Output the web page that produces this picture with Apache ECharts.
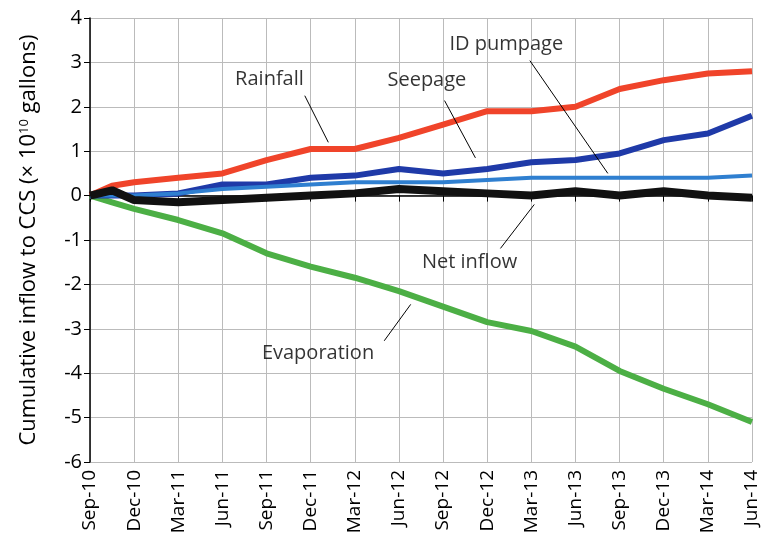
<!DOCTYPE html>
<html><head><meta charset="utf-8">
<script src="https://cdn.jsdelivr.net/npm/echarts@6/dist/echarts.min.js"></script>
<style>html,body{margin:0;padding:0;background:#fff}#chart{width:767px;height:546px}</style>
</head><body><div id="chart"></div>
<script>
// x = months since Sep-10
const tickLabels = ['Sep-10','Dec-10','Mar-11','Jun-11','Sep-11','Dec-11','Mar-12','Jun-12','Sep-12','Dec-12','Mar-13','Jun-13','Sep-13','Dec-13','Mar-14','Jun-14'];
const months = [0, 1.5, 3, 6, 9, 12, 15, 18, 21, 24, 27, 30, 33, 36, 39, 42, 45];
const rainfall = [0, 0.22, 0.3, 0.4, 0.5, 0.8, 1.05, 1.05, 1.3, 1.6, 1.9, 1.9, 2.0, 2.4, 2.6, 2.75, 2.8];
const seepage = [0, 0, 0, 0.05, 0.25, 0.25, 0.4, 0.45, 0.6, 0.5, 0.6, 0.75, 0.8, 0.95, 1.25, 1.4, 1.8];
const pumpage = [0, 0, 0, 0.05, 0.15, 0.2, 0.25, 0.3, 0.3, 0.3, 0.35, 0.4, 0.4, 0.4, 0.4, 0.4, 0.45];
const netInflow = [0, 0.12, -0.1, -0.15, -0.1, -0.05, 0.0, 0.05, 0.15, 0.1, 0.05, 0, 0.1, 0.0, 0.1, 0.0, -0.05];
const evaporation = [0, -0.15, -0.3, -0.55, -0.85, -1.3, -1.6, -1.85, -2.15, -2.5, -2.85, -3.05, -3.4, -3.95, -4.35, -4.7, -5.1];

const pts = v => months.map((m, i) => [m, v[i]]);
const font = 'Open Sans';

// annotations: [text, labelPoint, leaderStart, leaderEnd] in data coords
const notes = [
  ['Rainfall', [12.2, 2.63], [14.6, 2.25], [16.2, 1.2]],
  ['Seepage', [22.9, 2.6], [24.1, 2.14], [26.2, 0.85]],
  ['ID pumpage', [28.3, 3.4], [29.9, 3.04], [35.2, 0.5]],
  ['Net inflow', [25.8, -1.5], [27.9, -1.19], [30.2, -0.2]],
  ['Evaporation', [15.5, -3.55], [20, -3.27], [21.8, -2.45]]
];

function line(data, color, extra) {
  return Object.assign({ type: 'line', data: pts(data), symbol: 'none',
    lineStyle: { color: color, width: 6 }, z: 3 }, extra || {});
}

const chart = echarts.init(document.getElementById('chart'));
chart.setOption({
  animation: false,
  grid: { left: 90, right: 15, top: 18, bottom: 84 },
  xAxis: {
    type: 'value', min: 0, max: 45, interval: 3,
    axisLine: { lineStyle: { color: '#000', width: 1.5 } },
    axisTick: { show: true, length: 6, lineStyle: { color: '#000' } },
    axisLabel: { rotate: 90, color: '#000', fontSize: 19, fontFamily: font,
      formatter: v => tickLabels[Math.round(v / 3)] || '' },
    splitLine: { lineStyle: { color: '#bbb' } }
  },
  yAxis: {
    type: 'value', min: -6, max: 4, interval: 1,
    name: '{a|Cumulative inflow to CCS (× 10}{s|10}{a| gallons)}',
    nameLocation: 'middle', nameGap: 50, nameRotate: 90,
    nameTextStyle: { rich: { a: { fontSize: 22, fontFamily: font, color: '#000' },
      s: { fontSize: 13, fontFamily: font, color: '#000', verticalAlign: 'top', padding: [0, 0, 9, 0] } } },
    axisLine: { show: true, lineStyle: { color: '#000', width: 1.5 } },
    axisTick: { show: true, length: 6, lineStyle: { color: '#000' } },
    axisLabel: { color: '#000', fontSize: 20, fontFamily: font },
    splitLine: { lineStyle: { color: '#bbb' } }
  },
  series: [
    line(evaporation, '#4caf45'),
    line(rainfall, '#f0442a'),
    line(seepage, '#1f3aa8'),
    line(pumpage, '#2f7fd0', { lineStyle: { color: '#2f7fd0', width: 4 } }),
    line(netInflow, '#111', { lineStyle: { color: '#111', width: 8 } }),
    {
      type: 'scatter', data: notes.map(n => ({ value: n[1], name: n[0] })),
      symbolSize: 0, z: 5,
      label: { show: true, position: 'inside', formatter: p => p.name,
        color: '#000', fontSize: 20, fontFamily: font },
      markLine: {
        symbol: ['none', 'none'], silent: true,
        lineStyle: { color: '#000', width: 1, type: 'solid' },
        label: { show: false },
        data: notes.map(n => [{ coord: n[2] }, { coord: n[3] }])
      }
    }
  ]
});
</script></body></html>
